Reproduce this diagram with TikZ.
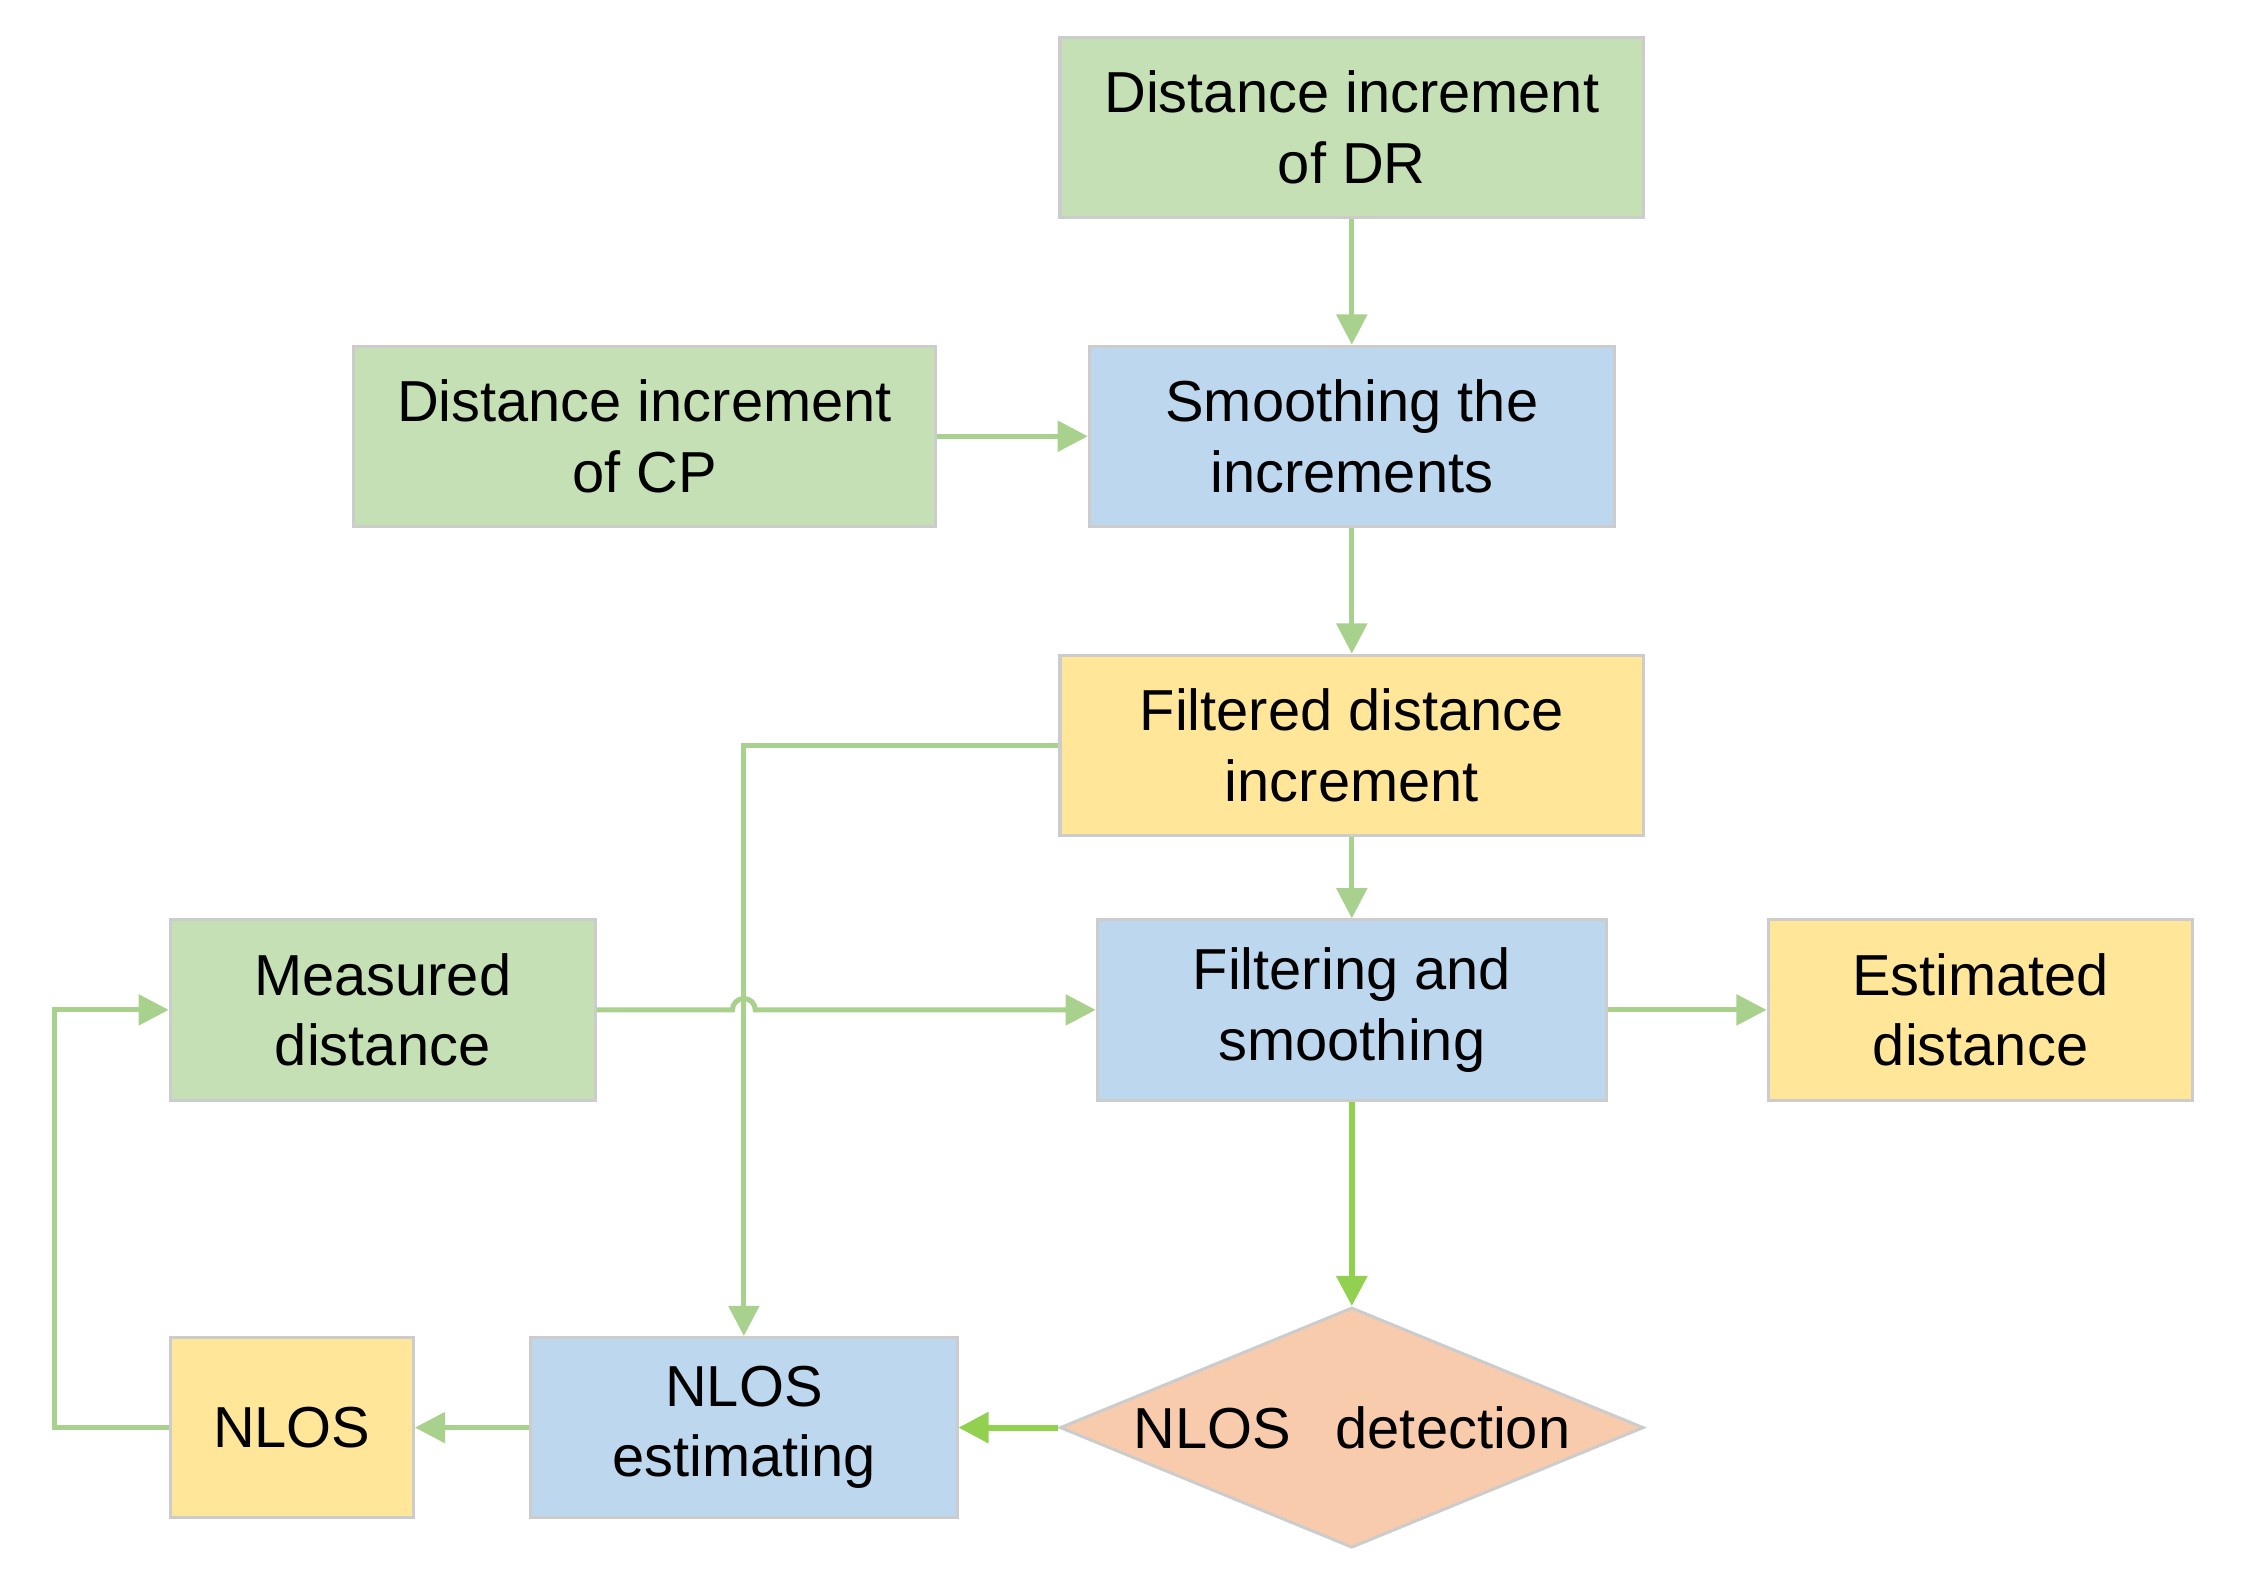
\documentclass[tikz,border=0pt]{standalone}
\usepackage{fontspec}
\setmainfont{Liberation Sans}
\usetikzlibrary{shapes.geometric,arrows.meta}
\definecolor{gfill}{HTML}{C5E0B4}
\definecolor{bfill}{HTML}{BDD7EE}
\definecolor{yfill}{HTML}{FFE699}
\definecolor{ofill}{HTML}{F8CBAD}
\definecolor{lgreen}{HTML}{A9D18E}
\definecolor{bgreen}{HTML}{92D050}
\tikzset{
 box/.style={draw=black!20, line width=0.6pt, minimum height=1.26cm, align=center, font=\fontsize{11.5pt}{14pt}\selectfont, inner sep=0pt},
 con/.style={draw=lgreen, line width=1pt, -{Triangle[length=6pt,width=6pt]}},
 bcon/.style={draw=bgreen, line width=1.2pt, -{Triangle[length=6pt,width=6pt]}}
}
\begin{document}
\begin{tikzpicture}[x=1cm,y=1cm]
\useasboundingbox (0,0) rectangle (15.68,11.09);
\node[box,fill=gfill,minimum width=4.08cm] (dr) at (9.45,10.20) {Distance increment\\of DR};
\node[box,fill=bfill,minimum width=3.67cm] (sm) at (9.45,8.04) {Smoothing the\\increments};
\node[box,fill=gfill,minimum width=4.07cm] (cp) at (4.505,8.04) {Distance increment\\of CP};
\node[box,fill=yfill,minimum width=4.08cm] (fd) at (9.45,5.88) {Filtered distance\\increment};
\node[box,fill=bfill,minimum width=3.56cm] (fs) at (9.45,4.03) {Filtering and\\smoothing};
\node[box,fill=gfill,minimum width=2.97cm] (md) at (2.675,4.03) {Measured\\distance};
\node[box,fill=yfill,minimum width=2.97cm] (ed) at (13.845,4.03) {Estimated\\distance};
\node[box,fill=bfill,minimum width=2.98cm] (ne) at (5.20,1.11) {NLOS\\estimating};
\node[box,fill=yfill,minimum width=1.70cm] (nl) at (2.04,1.11) {NLOS};
\node[box,fill=ofill,diamond,aspect=2.43,minimum width=4.08cm,minimum height=1.68cm] (dt) at (9.45,1.11) {NLOS\hspace{0.5em} detection};
\coordinate (lp) at (0.38,1.11);
\draw[con] (dr) -- (sm);
\draw[con] (cp) -- (sm);
\draw[con] (sm) -- (fd);
\draw[con] (fd) -- (fs);
\draw[con] (fs) -- (ed);
\draw[con] (md.east) -- (5.12,4.03) arc (180:0:0.08) -- (fs.west);
\draw[con] (fd.west) -| (ne.north);
\draw[bcon] (fs) -- (dt.north);
\draw[bcon] (dt.west) -- (ne.east);
\draw[con] (ne) -- (nl);
\draw[con] (nl.west) -- (lp) |- (md.west);
\end{tikzpicture}
\end{document}
